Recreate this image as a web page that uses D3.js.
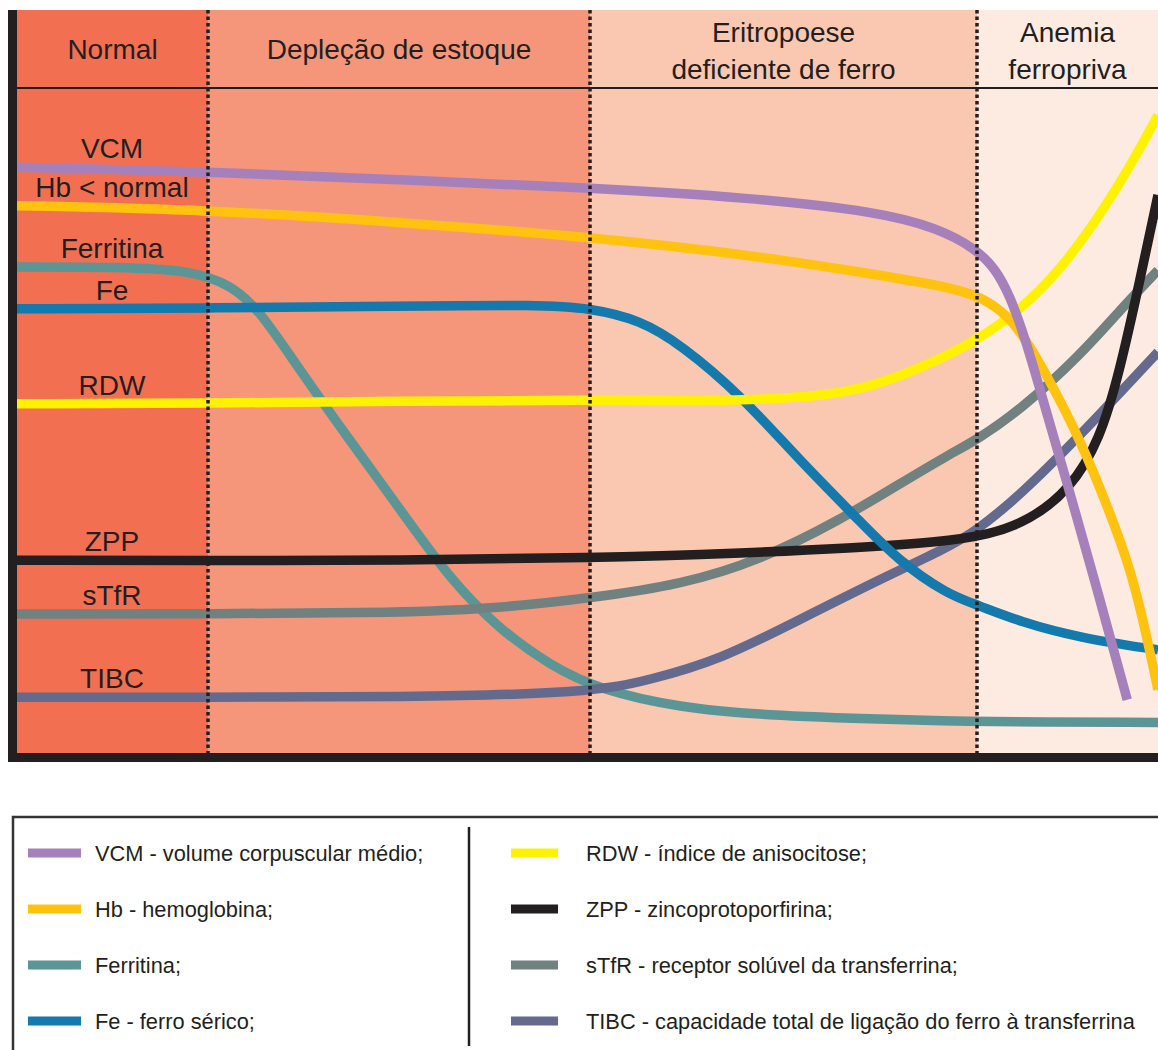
<!DOCTYPE html>
<html>
<head>
<meta charset="utf-8">
<script src="https://cdn.jsdelivr.net/npm/d3@7"></script>
<style>
  body { margin: 0; background: #fff; }
  text { font-family: "Liberation Sans", Arial, Helvetica, sans-serif; fill: #231f20; }
</style>
</head>
<body>
<svg id="chart" width="1158" height="1050"></svg>
<script>
// stages of iron deficiency (x units: Normal 0-1, Deplecao 1-3, Eritropoese 3-5, Anemia 5-6)
var stageNames = [["Normal"], ["Depleção de estoque"], ["Eritropoese", "deficiente de ferro"], ["Anemia", "ferropriva"]];
var stageBounds = [0, 1, 3, 5, 6];
var stageColors = ["#f36f52", "#f5967a", "#fac7b1", "#fdebe1"];

// series: [stage position, relative level 0-100]
var vcm = [[0,88.1],[0.43,87.8],[1,87.4],[2.01,86.2],[3,85.0],[3.83,83.5],[4.49,81.4],[4.8,78.9],[4.99,75.9],[5.1,72.9],[5.18,68.9],[5.27,62.1],[5.38,51.6],[5.51,39.5],[5.68,23.0],[5.83,8.0]];
var hb = [[0,82.3],[1,81.7],[2.01,79.8],[3,77.6],[3.83,74.9],[4.49,71.9],[4.85,70.1],[5.02,68.6],[5.13,66.6],[5.24,63.6],[5.4,56.1],[5.57,47.1],[5.73,36.5],[5.85,27.5],[5.93,18.5],[6,9.5]];
var ferritina = [[0,73.1],[0.54,73.1],[0.91,72.6],[1.12,70.4],[1.27,66.6],[1.48,57.6],[1.74,47.1],[2.01,36.5],[2.27,26.0],[2.53,18.5],[2.79,13.2],[3.05,9.5],[3.47,6.8],[3.88,5.7],[4.59,5.0],[5,4.7],[6,4.6]];
var fe = [[0,66.8],[1,66.9],[2.01,67.2],[2.74,67.4],[3,66.9],[3.26,65.1],[3.47,61.4],[3.78,53.8],[4.08,44.1],[4.39,35.0],[4.59,29.0],[4.85,23.8],[5,22.3],[5.24,19.7],[5.57,17.3],[6,15.5]];
var rdw = [[0,52.5],[1,52.6],[2.01,52.9],[3,53.1],[3.57,52.9],[4.18,53.4],[4.49,55.3],[4.8,59.1],[5,62.1],[5.24,66.6],[5.46,72.6],[5.68,80.9],[5.85,88.4],[6,95.9]];
var zpp = [[0,29.0],[1,28.9],[2.01,29.0],[3,29.3],[3.83,30.1],[4.34,30.8],[4.8,31.7],[5.07,32.8],[5.29,35.0],[5.51,39.5],[5.68,47.1],[5.79,57.6],[5.9,71.1],[6,83.9]];
var stfr = [[0,20.9],[1,20.9],[2.01,21.1],[2.53,21.8],[3,23.3],[3.47,25.3],[3.88,29.0],[4.29,35.0],[4.59,40.3],[4.85,44.8],[5,47.1],[5.24,51.6],[5.57,59.8],[5.79,66.6],[6,72.6]];
var tibc = [[0,8.4],[1,8.4],[2.01,8.4],[3,9.0],[3.31,11.0],[3.67,14.0],[4.08,20.0],[4.49,26.0],[4.85,30.9],[5,33.5],[5.24,38.8],[5.57,47.8],[5.79,54.2],[6,60.3]];

var seriesLabels = ["VCM", "Hb < normal", "Ferritina", "Fe", "RDW", "ZPP", "sTfR", "TIBC"];
var seriesColors = ["#a680ba", "#ffc20f", "#5b9596", "#1479ad", "#fff200", "#231f20", "#718180", "#636a8d"];
var seriesData = [vcm, hb, ferritina, fe, rdw, zpp, stfr, tibc];
var legendTexts = ["VCM - volume corpuscular médio;", "Hb - hemoglobina;", "Ferritina;", "Fe - ferro sérico;",
                   "RDW - índice de anisocitose;", "ZPP - zincoprotoporfirina;", "sTfR - receptor solúvel da transferrina;",
                   "TIBC - capacidade total de ligação do ferro à transferrina"];

var svg = d3.select("#chart");
var plotLeft = 17, plotRight = 1158, plotTop = 10, headerY = 88, plotBottom = 753;

var x = d3.scaleLinear().domain(stageBounds).range([plotLeft, 208, 590, 977, plotRight]);
var y = d3.scaleLinear().domain([0, 100]).range([plotBottom, headerY]);

// stage bands
svg.selectAll("rect.band").data(stageNames).enter().append("rect")
    .attr("class", "band")
    .attr("x", function(d, i){ return x(stageBounds[i]); })
    .attr("y", plotTop)
    .attr("width", function(d, i){ return x(stageBounds[i+1]) - x(stageBounds[i]); })
    .attr("height", plotBottom - plotTop)
    .attr("fill", function(d, i){ return stageColors[i]; });

// header line
svg.append("line").attr("x1", plotLeft).attr("x2", plotRight).attr("y1", headerY).attr("y2", headerY)
    .attr("stroke", "#231f20").attr("stroke-width", 2);

// stage titles
stageNames.forEach(function(lines, i){
    var cx = (x(stageBounds[i]) + x(stageBounds[i+1])) / 2;
    var t = svg.append("text").attr("text-anchor", "middle").style("font-size", "28px");
    if (lines.length == 1) {
        t.append("tspan").attr("x", cx).attr("y", 59).text(lines[0]);
    } else {
        t.append("tspan").attr("x", cx).attr("y", 42).text(lines[0]);
        t.append("tspan").attr("x", cx).attr("y", 79).text(lines[1]);
    }
});

// curves
svg.append("clipPath").attr("id", "plotClip").append("rect")
    .attr("x", plotLeft).attr("y", headerY).attr("width", plotRight - plotLeft).attr("height", plotBottom - headerY);

var line = d3.line()
    .x(function(d){ return x(d[0]); })
    .y(function(d){ return y(d[1]); })
    .curve(d3.curveBasis);

var drawOrder = [2, 7, 6, 5, 3, 4, 1, 0];
drawOrder.forEach(function(i){
    svg.append("path")
        .attr("d", line(seriesData[i]))
        .attr("fill", "none")
        .attr("stroke", seriesColors[i])
        .attr("stroke-width", 9.5)
        .attr("clip-path", "url(#plotClip)");
});

// dotted dividers between stages
svg.selectAll("line.div").data(stageBounds.slice(1, 4)).enter().append("line")
    .attr("class", "div")
    .attr("x1", function(d){ return x(d); }).attr("x2", function(d){ return x(d); })
    .attr("y1", plotTop).attr("y2", plotBottom)
    .attr("stroke", "#231f20").attr("stroke-width", 3.5)
    .attr("stroke-dasharray", "3.5,3");

// series labels in the Normal column
seriesLabels.forEach(function(lab, i){
    svg.append("text")
        .attr("x", 112)
        .attr("y", y(seriesData[i][0][1]) - 9)
        .attr("text-anchor", "middle")
        .style("font-size", "28px")
        .text(lab);
});

// frame: left and bottom thick bars
svg.append("rect").attr("x", 8).attr("y", plotTop).attr("width", 9).attr("height", plotBottom + 9 - plotTop).attr("fill", "#231f20");
svg.append("rect").attr("x", 8).attr("y", plotBottom).attr("width", plotRight - 8).attr("height", 9).attr("fill", "#231f20");

// legend
svg.append("rect").attr("x", 13).attr("y", 817).attr("width", 1160).attr("height", 260)
    .attr("fill", "none").attr("stroke", "#333").attr("stroke-width", 2.5);
svg.append("line").attr("x1", 469).attr("x2", 469).attr("y1", 827).attr("y2", 1046)
    .attr("stroke", "#231f20").attr("stroke-width", 2.5);

legendTexts.forEach(function(txt, i){
    var col = Math.floor(i / 4), row = i % 4;
    var sx = col == 0 ? 28 : 511;
    var tx = col == 0 ? 95 : 586;
    var cy = 853 + row * 56;
    svg.append("rect").attr("x", sx).attr("y", cy - 4.5).attr("width", col == 0 ? 53 : 47).attr("height", 9)
        .attr("fill", seriesColors[i]);
    svg.append("text").attr("x", tx).attr("y", cy + 7.5)
        .style("font-size", "21.8px")
        .text(txt);
});
</script>
</body>
</html>
